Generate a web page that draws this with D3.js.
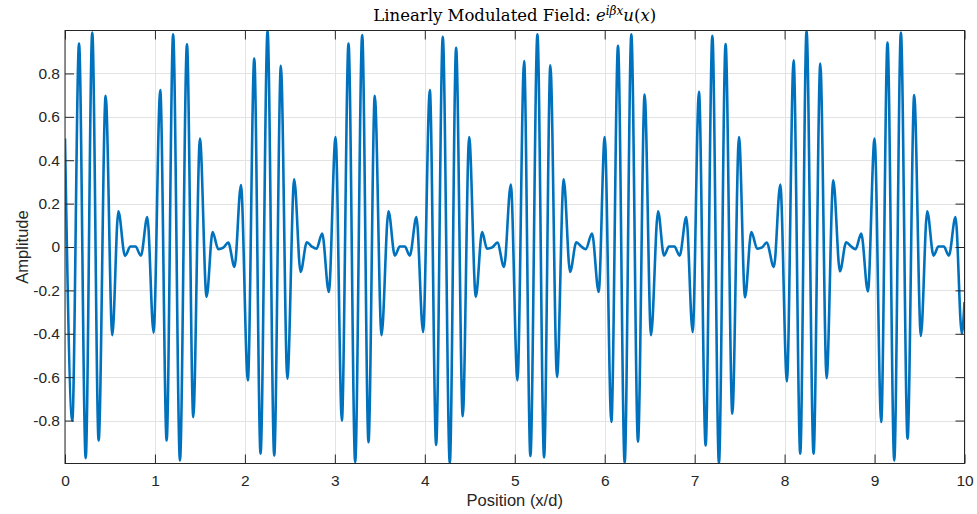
<!DOCTYPE html>
<html>
<head>
<meta charset="utf-8">
<script src="https://cdn.jsdelivr.net/npm/d3@7"></script>
<style>
  body { margin: 0; background: #fff; }
  svg { display: block; font-family: "Liberation Sans", Arial, sans-serif; }
</style>
</head>
<body>
<div id="chart"></div>
<script>
// Local extrema of the field (position x/d, amplitude)
const positions = [
  0.000, 0.081, 0.156, 0.230, 0.303, 0.374, 0.452, 0.526, 0.593, 0.667, 0.728, 0.783, 0.844, 0.915, 0.985,
  1.059, 1.130, 1.202, 1.278, 1.356, 1.426, 1.500, 1.574, 1.641, 1.704, 1.760, 1.815, 1.885, 1.956,
  2.033, 2.104, 2.174, 2.252, 2.326, 2.400, 2.472, 2.548, 2.619, 2.689, 2.745, 2.796, 2.859, 2.933,
  3.008, 3.078, 3.152, 3.226, 3.304, 3.374, 3.444, 3.519, 3.596, 3.667, 3.722, 3.778, 3.833, 3.907, 3.981,
  4.056, 4.126, 4.200, 4.278, 4.348, 4.422, 4.493, 4.567, 4.637, 4.692, 4.750, 4.807, 4.881, 4.956,
  5.030, 5.104, 5.174, 5.252, 5.326, 5.396, 5.470, 5.544, 5.615, 5.685, 5.740, 5.789, 5.859, 5.933,
  6.000, 6.074, 6.148, 6.222, 6.296, 6.370, 6.444, 6.515, 6.593, 6.659, 6.715, 6.775, 6.833, 6.907, 6.978,
  7.048, 7.122, 7.197, 7.270, 7.344, 7.419, 7.493, 7.560, 7.630, 7.696, 7.750, 7.800, 7.881, 7.952,
  8.026, 8.100, 8.174, 8.244, 8.322, 8.397, 8.467, 8.541, 8.615, 8.685, 8.740, 8.789, 8.852, 8.926,
  9.000, 9.074, 9.144, 9.219, 9.293, 9.367, 9.441, 9.515, 9.585, 9.656, 9.710, 9.770, 9.826, 9.900, 9.970, 10.000
];
const amplitudes = [
  0.500, -0.800, 0.938, -0.973, 0.989, -0.892, 0.697, -0.407, 0.165, -0.041, 0.002, 0.002, -0.040, 0.138, -0.395,
  0.723, -0.892, 0.980, -0.984, 0.934, -0.784, 0.500, -0.230, 0.069, -0.010, -0.003, 0.020, -0.092, 0.285,
  -0.615, 0.869, -0.953, 0.997, -0.961, 0.835, -0.607, 0.312, -0.115, 0.022, 0.002, -0.008, 0.062, -0.207,
  0.507, -0.800, 0.938, -0.992, 0.977, -0.900, 0.697, -0.407, 0.165, -0.040, 0.002, 0.002, -0.040, 0.138, -0.392,
  0.723, -0.912, 0.969, -0.997, 0.918, -0.780, 0.507, -0.230, 0.069, -0.008, -0.002, 0.020, -0.092, 0.288,
  -0.615, 0.857, -0.964, 0.980, -0.970, 0.838, -0.600, 0.312, -0.115, 0.022, 0.002, -0.010, 0.062, -0.207,
  0.507, -0.807, 0.927, -0.995, 0.980, -0.897, 0.703, -0.407, 0.165, -0.040, 0.002, 0.002, -0.040, 0.138, -0.392,
  0.715, -0.915, 0.974, -0.997, 0.935, -0.769, 0.507, -0.232, 0.069, -0.008, -0.002, 0.020, -0.092, 0.288,
  -0.620, 0.861, -0.953, 0.997, -0.953, 0.846, -0.605, 0.308, -0.112, 0.022, 0.002, -0.010, 0.062, -0.205,
  0.500, -0.807, 0.943, -0.984, 0.989, -0.884, 0.700, -0.410, 0.165, -0.040, 0.002, 0.002, -0.040, 0.138, -0.400, -0.254
];
const xTicks = [0, 1, 2, 3, 4, 5, 6, 7, 8, 9, 10];
const yTicks = [-0.8, -0.6, -0.4, -0.2, 0, 0.2, 0.4, 0.6, 0.8];

const data = positions.map((x, i) => ({x, y: amplitudes[i]}));

// Chart dimensions and margins
const width = 977;
const height = 514;
const marginTop = 30.5;
const marginRight = 12.5;
const marginBottom = 50.5;
const marginLeft = 65;

const x = d3.scaleLinear([0, 10], [marginLeft, width - marginRight]);
const y = d3.scaleLinear([-0.998, 0.998], [height - marginBottom, marginTop]);

const svg = d3.select("#chart").append("svg")
  .attr("width", width)
  .attr("height", height)
  .attr("viewBox", [0, 0, width, height]);

svg.append("defs").append("clipPath")
  .attr("id", "clip")
  .append("rect")
  .attr("x", marginLeft)
  .attr("y", marginTop)
  .attr("width", width - marginLeft - marginRight)
  .attr("height", height - marginTop - marginBottom);

// Grid lines
svg.append("g")
  .attr("stroke", "#e3e3e3")
  .attr("stroke-width", 1)
  .call(g => g.selectAll("line.vx").data(xTicks).join("line")
    .attr("x1", d => Math.round(x(d)) + 0.5).attr("x2", d => Math.round(x(d)) + 0.5)
    .attr("y1", marginTop).attr("y2", height - marginBottom))
  .call(g => g.selectAll("line.hy").data(yTicks).join("line")
    .attr("y1", d => Math.round(y(d)) + 0.5).attr("y2", d => Math.round(y(d)) + 0.5)
    .attr("x1", marginLeft).attr("x2", width - marginRight));

// The field curve
const line = d3.line()
  .x(d => x(d.x))
  .y(d => y(d.y))
  .curve(d3.curveMonotoneX);

svg.append("path")
  .attr("clip-path", "url(#clip)")
  .attr("fill", "none")
  .attr("stroke", "#0072BD")
  .attr("stroke-width", 2.6)
  .attr("stroke-linejoin", "round")
  .attr("d", line(data));

const fmt = d => d === 0 ? "0" : String(d);
const styleAxis = g => {
  g.select(".domain").remove();
  g.selectAll(".tick line").attr("stroke", "#262626");
  g.selectAll(".tick text").attr("fill", "#262626").attr("font-size", 15.5)
    .attr("font-family", "Liberation Sans, Arial, sans-serif");
};

// Axes with inward ticks on all four sides
svg.append("g")
  .attr("transform", `translate(0,${height - marginBottom})`)
  .call(d3.axisBottom(x).tickValues(xTicks).tickFormat(fmt).tickSize(-9).tickPadding(11))
  .call(styleAxis);

svg.append("g")
  .attr("transform", `translate(0,${marginTop})`)
  .call(d3.axisTop(x).tickValues(xTicks).tickFormat("").tickSize(-9))
  .call(styleAxis);

svg.append("g")
  .attr("transform", `translate(${marginLeft},0)`)
  .call(d3.axisLeft(y).tickValues(yTicks).tickFormat(fmt).tickSize(-9).tickPadding(5))
  .call(styleAxis);

svg.append("g")
  .attr("transform", `translate(${width - marginRight},0)`)
  .call(d3.axisRight(y).tickValues(yTicks).tickFormat("").tickSize(-9))
  .call(styleAxis);

// Box
svg.append("rect")
  .attr("x", marginLeft)
  .attr("y", marginTop)
  .attr("width", width - marginLeft - marginRight)
  .attr("height", height - marginTop - marginBottom)
  .attr("fill", "none")
  .attr("stroke", "#262626")
  .attr("stroke-width", 1);

// Axis labels
svg.append("text")
  .attr("x", (marginLeft + width - marginRight) / 2)
  .attr("y", 506)
  .attr("text-anchor", "middle")
  .attr("font-size", 16.5)
  .attr("fill", "#262626")
  .text("Position (x/d)");

svg.append("text")
  .attr("transform", `translate(28,${(marginTop + height - marginBottom) / 2}) rotate(-90)`)
  .attr("text-anchor", "middle")
  .attr("font-size", 16.5)
  .attr("fill", "#262626")
  .text("Amplitude");

// Title (LaTeX style)
const title = svg.append("text")
  .attr("x", (marginLeft + width - marginRight) / 2)
  .attr("y", 21)
  .attr("text-anchor", "middle")
  .attr("font-family", "DejaVu Serif, Liberation Serif, serif")
  .attr("font-size", 16.5)
  .attr("fill", "#000");
title.append("tspan").text("Linearly Modulated Field: ");
title.append("tspan").attr("font-style", "italic").text("e");
title.append("tspan").attr("font-style", "italic").attr("font-size", 12).attr("dy", -6.5).text("iβx");
title.append("tspan").attr("font-style", "italic").attr("dy", 6.5).text("u");
title.append("tspan").text("(");
title.append("tspan").attr("font-style", "italic").text("x");
title.append("tspan").text(")");
</script>
</body>
</html>
